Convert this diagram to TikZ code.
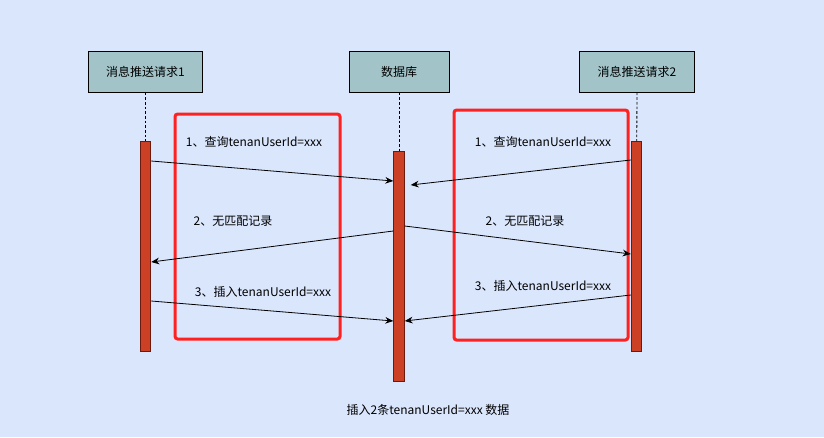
\documentclass[tikz,border=0pt]{standalone}
\usepackage{fontspec}
\setmainfont{Noto Sans CJK SC}
\usepackage{tikz}
\usetikzlibrary{positioning,arrows.meta}
\definecolor{bgblue}{HTML}{DAE6FC}
\definecolor{headfill}{HTML}{A2C4C9}
\definecolor{barfill}{HTML}{CC4125}
\definecolor{barline}{HTML}{6B1A0D}
\definecolor{grpred}{HTML}{FF2020}

\begin{document}
\begin{tikzpicture}[x=0.75pt, y=-0.75pt,
  head/.style={draw, fill=headfill, line width=0.75pt, minimum width=86pt, minimum height=30.75pt, font=\fontsize{9}{11}\selectfont, inner sep=0pt},
  bar/.style={draw=barline, fill=barfill, line width=0.6pt, minimum width=8pt, minimum height=157.5pt, inner sep=0pt, anchor=north},
  life/.style={dash pattern=on 2pt off 1.5pt, line width=0.6pt},
  msg/.style={-{Stealth[length=6pt, width=5pt]}, line width=0.6pt},
  lbl/.style={font=\fontsize{9}{11}\selectfont, inner sep=0pt},
  grp/.style={draw=grpred, line width=2.25pt, rounded corners=2pt}]
\fill[bgblue] (0,0) rectangle (824,437);
\useasboundingbox (0,0) rectangle (824,437);
% participants
\node[head] (req1) at (145.5,71.5) {消息推送请求1};
\node[head, minimum width=75pt] (db) at (399,71.5) {数据库};
\node[head] (req2) at (637,71.5) {消息推送请求2};
% activation bars
\node[bar] (bar1) at (145.5,141) {};
\node[bar, minimum height=172.5pt] (bar2) at (399,151) {};
\node[bar] (bar3) at (636.5,141) {};
\draw[life] (req1) -- (bar1);
\draw[life] (db) -- (bar2);
\draw[life] (req2) -- (bar3);
% groups
\draw[grp] (175,114) rectangle (340,339);
\draw[grp] (454,110) rectangle (628,340);
% messages, left
\draw[msg] ([yshift=-15pt]bar1.north east) -- ([yshift=-22.5pt]bar2.north west);
\draw[msg] ([yshift=-60pt]bar2.north west) -- ([yshift=-90.75pt]bar1.north east);
\draw[msg] ([yshift=-120pt]bar1.north east) -- ([yshift=-127.5pt]bar2.north west);
% messages, right
\draw[msg] ([yshift=-14.25pt]bar3.north west) -- ([xshift=4.5pt, yshift=-25.5pt]bar2.north east);
\draw[msg] ([yshift=-56.25pt]bar2.north east) -- ([yshift=-84.75pt]bar3.north west);
\draw[msg] ([yshift=-115.5pt]bar3.north west) -- ([yshift=-127.5pt]bar2.north east);
% labels
\node[lbl] (q1) at (254,142) {1、查询tenanUserId=xxx};
\node[lbl] (n1) at (233,221) {2、无匹配记录};
\node[lbl] (i1) at (263,292) {3、插入tenanUserId=xxx};
\node[lbl] (q2) at (543,142) {1、查询tenanUserId=xxx};
\node[lbl] (n2) at (525,221) {2、无匹配记录};
\node[lbl] (i2) at (543,286) {3、插入tenanUserId=xxx};
\node[lbl] (note) at (428,410) {插入2条tenanUserId=xxx 数据};
\end{tikzpicture}
\end{document}
